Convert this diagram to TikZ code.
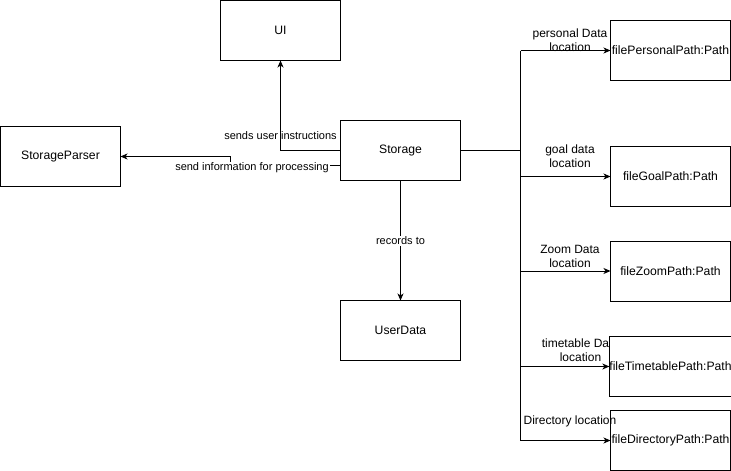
\documentclass[tikz,border=0pt]{standalone}
\usepackage{fontspec}
\setmainfont{Liberation Sans}
\usetikzlibrary{arrows.meta}
\pgfdeclarelayer{background}
\pgfsetlayers{background,main}
\begin{document}
\begin{tikzpicture}[x=1pt,y=-1pt,
  box/.style={draw=black,line width=1pt,fill=white,minimum width=120pt,minimum height=60pt,inner sep=0pt,outer sep=0pt,font=\fontsize{12.2}{14}\selectfont},
  conn/.style={draw=black,line width=1pt},
  arr/.style={conn,-{Stealth[length=7pt,width=6pt,inset=2pt]}},
  lbl/.style={font=\fontsize{11}{13.5}\selectfont,align=center,inner sep=1pt},
  blbl/.style={font=\fontsize{12}{14}\selectfont,align=center,inner sep=1pt},
  wlbl/.style={lbl,fill=white}]
\useasboundingbox (0,0) rectangle (731,471);
\node[box] (ui) at (280.5,30.5) {UI};
\node[box] (sp) at (60.5,156.5) {StorageParser};
\node[box] (st) at (400.5,150.5) {Storage};
\node[box] (ud) at (400.5,330.5) {UserData};
\node[box] (fp) at (670.5,50.5) {filePersonalPath:Path};
\node[box] (fg) at (670.5,176.5) {fileGoalPath:Path};
\node[box] (fz) at (670.5,271) {fileZoomPath:Path};
\node[box] (ft) at (670.5,366.5) {fileTimetablePath:Path};
\node[box] (fd) at (670.5,440.5) {fileDirectoryPath:Path};
\coordinate (k1) at (230.5,156.5);
\coordinate (j) at (520.5,150.5);
\coordinate (jtop) at (520.5,50.5);
\coordinate (jbot) at (520.5,440.5);
% Storage -> UI
\draw[arr] (st.west) -| (ui.south);
\node[lbl] (l1) at (280.5,136) {sends user instructions};
% Storage -> StorageParser
\draw[arr] ([yshift=-15pt]st.west) -| (k1) -- (sp.east);
\node[wlbl] (l2) at (252,168) {send information for processing};
% Storage -> UserData
\draw[arr] (st.south) -- (ud.north);
\node[wlbl] (l3) at (400.5,241) {records to};
% bus
\draw[conn] (st.east) -- (j);
\draw[conn] (jtop) -- (jbot);
\draw[arr] (jtop) -- (fp.west);
\draw[arr] (fg.west -| j) -- (fg.west);
\draw[arr] (fz.west -| j) -- (fz.west);
\draw[arr] (ft.west -| j) -- (ft.west);
\draw[arr] (jbot) -- (fd.west);
\node[blbl] (l4) at (570,40) {personal Data\\location};
\node[blbl] (l5) at (570,156) {goal data\\location};
\node[blbl] (l6) at (570,256) {Zoom Data\\location};
\begin{pgfonlayer}{background}
\node[blbl] (l7) at (580.5,350) {timetable Data\\location};
\end{pgfonlayer}
\node[blbl] (l8) at (570,421) {Directory location};
\end{tikzpicture}
\end{document}
